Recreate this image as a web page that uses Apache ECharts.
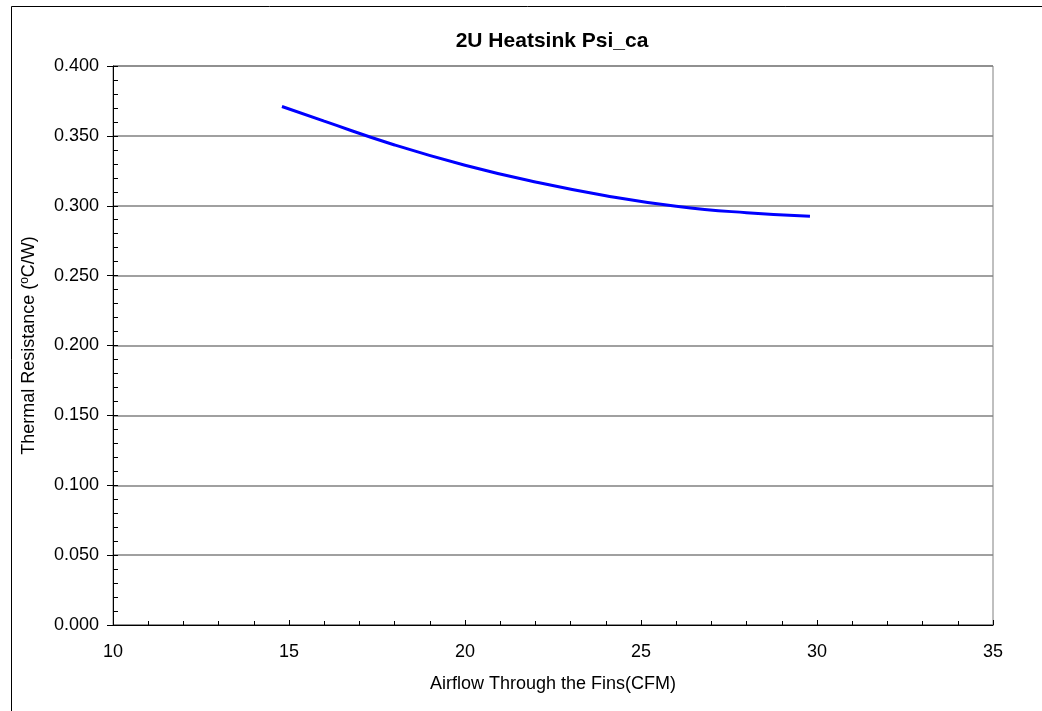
<!DOCTYPE html>
<html>
<head>
<meta charset="utf-8">
<script src="https://cdn.jsdelivr.net/npm/echarts@6/dist/echarts.min.js"></script>
<style>
    html, body { margin: 0; padding: 0; background: #fff; }
    #chart { width: 1042px; height: 711px; }
</style>
</head>
<body>
<div id="chart"></div>
<script>
    // airflow (CFM) vs thermal resistance
    var airflow = [14.8, 16.0, 18.0, 20.0, 22.0, 24.0, 26.0, 28.0, 29.8];
    var psiCa = [0.371, 0.3605, 0.3435, 0.329, 0.317, 0.3072, 0.2997, 0.295, 0.2925];
    var xTicks = [10, 15, 20, 25, 30, 35];
    var yTicks = [0, 0.05, 0.1, 0.15, 0.2, 0.25, 0.3, 0.35, 0.4];

    var pts = [];
    for (var i = 0; i < airflow.length; i++) {
        pts.push([airflow[i], psiCa[i]]);
    }

    var font = '"Liberation Sans", Arial, sans-serif';
    var mychart = echarts.init(document.getElementById('chart'));

    mychart.setOption({
        animation: false,
        backgroundColor: '#fff',
        textStyle: { fontFamily: font },
        graphic: [{
            type: 'rect',
            shape: { x: 11.5, y: 6.5, width: 1200, height: 900 },
            style: { fill: 'none', stroke: '#000', lineWidth: 1 },
            silent: true
        }],
        title: {
            text: '2U Heatsink Psi_ca',
            left: 547,
            top: 26,
            textAlign: 'center',
            textStyle: { fontFamily: font, fontSize: 21, fontWeight: 'bold', color: '#000' }
        },
        grid: {
            left: 113,
            top: 66,
            right: 49,
            bottom: 86,
            show: true,
            borderColor: '#808080',
            borderWidth: 1
        },
        xAxis: {
            type: 'value',
            min: xTicks[0],
            max: xTicks[xTicks.length - 1],
            interval: 5,
            name: 'Airflow Through the Fins(CFM)',
            nameLocation: 'middle',
            nameGap: 50,
            nameTextStyle: { fontFamily: font, fontSize: 18, color: '#000' },
            axisLine: { lineStyle: { color: '#000', width: 1 } },
            axisTick: { inside: true, length: 5, lineStyle: { color: '#000' } },
            minorTick: { show: true, splitNumber: 5, length: 4, lineStyle: { color: '#000' } },
            axisLabel: { margin: 18, fontFamily: font, fontSize: 18, color: '#000' },
            splitLine: { show: false }
        },
        yAxis: [{
            type: 'value',
            min: yTicks[0],
            max: yTicks[yTicks.length - 1],
            interval: 0.05,
            name: '{n|Thermal Resistance (}{s|o}{n|C/W)}',
            nameLocation: 'middle',
            nameGap: 74,
            nameRotate: 90,
            nameTextStyle: {
                rich: {
                    n: { fontFamily: font, fontSize: 18, color: '#000' },
                    s: { fontFamily: font, fontSize: 12, color: '#000', verticalAlign: 'top', padding: [0, 0, 8, 0] }
                }
            },
            axisLine: { show: true, lineStyle: { color: '#000', width: 1 } },
            axisTick: { show: true, inside: true, length: 5, lineStyle: { color: '#000' } },
            minorTick: { show: true, splitNumber: 5, length: 5, lineStyle: { color: '#000' } },
            axisLabel: {
                margin: 14,
                fontFamily: font,
                fontSize: 18,
                color: '#000',
                formatter: function (v) { return v.toFixed(3); }
            },
            splitLine: { show: true, lineStyle: { color: '#808080', width: 1.5 } }
        }, {
            // outside major ticks only
            type: 'value',
            position: 'left',
            min: yTicks[0],
            max: yTicks[yTicks.length - 1],
            interval: 0.05,
            axisLine: { show: false },
            axisTick: { show: true, inside: false, length: 6, lineStyle: { color: '#000' } },
            axisLabel: { show: false },
            splitLine: { show: false }
        }],
        series: [{
            type: 'line',
            data: pts,
            smooth: true,
            showSymbol: false,
            symbol: 'none',
            lineStyle: { color: '#0000ff', width: 3 }
        }]
    });
</script>
</body>
</html>
